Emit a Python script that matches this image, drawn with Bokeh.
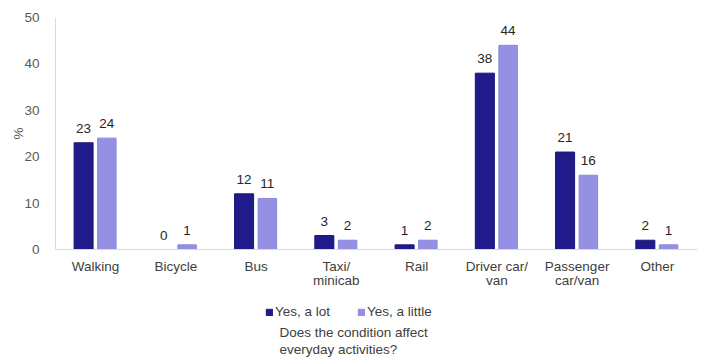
from bokeh.plotting import figure
from bokeh.models import ColumnDataSource, FactorRange, Range1d, Legend, LegendItem, Label, FixedTicker
from bokeh.layouts import column
from bokeh.transform import dodge
from bokeh.core.properties import value
from bokeh.embed import file_html
from bokeh.resources import INLINE

categories = ["Walking", "Bicycle", "Bus", "Taxi/\nminicab", "Rail",
              "Driver car/\nvan", "Passenger\ncar/van", "Other"]
a_lot = [23, 0, 12, 3, 1, 38, 21, 2]
a_little = [24, 1, 11, 2, 2, 44, 16, 1]
y_ticks = [0, 10, 20, 30, 40, 50]
series_names = ["Yes, a lot", "Yes, a little"]
legend_title = ["Does the condition affect", "everyday activities?"]

DARK = "#1f1b8a"
LIGHT = "#9491e4"
FONT = "Liberation Sans"
FS = "13.5px"

src = ColumnDataSource(dict(
    cat=categories,
    lot=a_lot,
    little=a_little,
    lot_txt=[str(v) for v in a_lot],
    little_txt=[str(v) for v in a_little],
))

p = figure(width=707, height=300, x_range=FactorRange(*categories, range_padding=0),
           y_range=Range1d(0, 50), output_backend="svg", toolbar_location=None,
           min_border_left=55, min_border_right=10, min_border_top=17, min_border_bottom=51)
p.outline_line_color = None
p.xgrid.grid_line_color = None
p.ygrid.grid_line_color = None

r1 = p.vbar(x=dodge("cat", -0.15, range=p.x_range), top="lot", width=0.237, source=src,
            fill_color=DARK, line_color="#1a1678", line_width=1)
r2 = p.vbar(x=dodge("cat", 0.14, range=p.x_range), top="little", width=0.23, source=src,
            fill_color=LIGHT, line_color="#8a87dc", line_width=1)

p.text(x=dodge("cat", -0.15, range=p.x_range), y="lot", text="lot_txt", source=src,
       text_align="center", text_baseline="bottom", y_offset=-10,
       text_font=value(FONT), text_font_size=FS, text_color="#262626")
p.text(x=dodge("cat", 0.14, range=p.x_range), y="little", text="little_txt", source=src,
       text_align="center", text_baseline="bottom", y_offset=-10,
       text_font=value(FONT), text_font_size=FS, text_color="#262626")

# axes
p.yaxis.ticker = FixedTicker(ticks=y_ticks)
p.yaxis.axis_label = "%"
p.yaxis.axis_label_text_font = FONT
p.yaxis.axis_label_text_font_style = "normal"
p.yaxis.axis_label_text_font_size = FS
p.yaxis.axis_label_text_color = "#595959"
p.yaxis.axis_label_standoff = -5
p.yaxis.major_label_text_font = FONT
p.yaxis.major_label_text_font_size = FS
p.yaxis.major_label_text_color = "#595959"
p.yaxis.major_label_standoff = 10
p.yaxis.major_tick_line_color = None
p.yaxis.minor_tick_line_color = None
p.yaxis.axis_line_color = "#d9d9d9"

p.xaxis.major_label_text_font = FONT
p.xaxis.major_label_text_font_size = FS
p.xaxis.major_label_text_color = "#404040"
p.xaxis.major_label_text_line_height = 0.95
p.xaxis.major_label_standoff = 3
p.xaxis.major_tick_line_color = None
p.xaxis.axis_line_color = "#d9d9d9"

# legend area below the chart (its frame lines up with the chart's frame)
FRAME_LEFT = 55
p2 = figure(width=707, height=64, x_range=Range1d(0, 652), y_range=Range1d(0, 64),
            output_backend="svg", toolbar_location=None, min_border=0)
p2.outline_line_color = None
p2.axis.visible = False
p2.grid.visible = False
g1 = p2.vbar(x=[-100], top=[0], width=1, fill_color=DARK, line_color="#1a1678")
g2 = p2.vbar(x=[-100], top=[0], width=1, fill_color=LIGHT, line_color="#8a87dc")

legend = Legend(items=[LegendItem(label=series_names[0], renderers=[g1]),
                       LegendItem(label=series_names[1], renderers=[g2])],
                location=(265 - FRAME_LEFT, 45), orientation="horizontal",
                glyph_width=8, glyph_height=8, label_standoff=2, spacing=27,
                label_height=14, label_text_font=FONT, label_text_font_size=FS,
                label_text_color="#404040", padding=0, margin=0,
                border_line_color=None, background_fill_alpha=0)
p2.add_layout(legend, "center")

p2.add_layout(Label(x=279 - FRAME_LEFT, y=32, x_units="screen", y_units="screen",
                    text=legend_title[0], text_font=FONT, text_font_size=FS,
                    text_color="#404040", text_baseline="middle"))
p2.add_layout(Label(x=279 - FRAME_LEFT, y=15, x_units="screen", y_units="screen",
                    text=legend_title[1], text_font=FONT, text_font_size=FS,
                    text_color="#404040", text_baseline="middle"))

open("out.html", "w").write(file_html(column(p, p2), INLINE))
